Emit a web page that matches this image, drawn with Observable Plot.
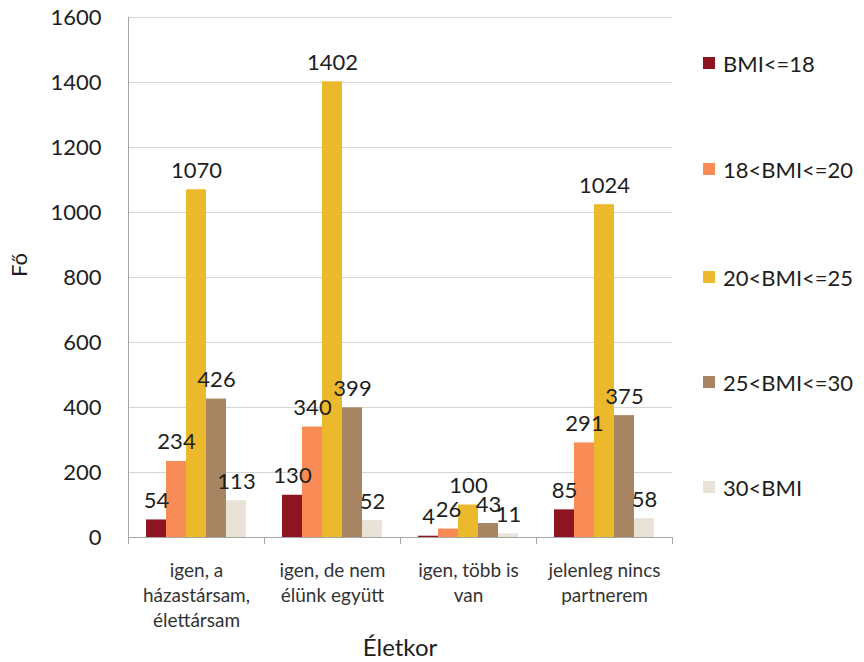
<!DOCTYPE html>
<html><head><meta charset="utf-8">
<script src="https://cdn.jsdelivr.net/npm/d3@7"></script>
<script src="https://cdn.jsdelivr.net/npm/@observablehq/plot@0.6"></script>
<style>
body{margin:0;background:#fff;font-family:Lato,sans-serif;}
#wrap{position:relative;width:864px;height:662px;overflow:hidden;}
.lg{position:absolute;left:703px;display:flex;align-items:center;font-size:22px;color:#1e1e1e;height:30px;}
.lg span.sw{display:inline-block;width:12px;height:12px;margin-right:8px;}
#ylab{position:absolute;left:18px;top:265px;transform:translate(-50%,-50%) rotate(-90deg);font-size:22px;color:#1e1e1e;}
#xlab{position:absolute;left:400px;top:632px;transform:translateX(-50%);font-size:24px;color:#1e1e1e;}
</style></head><body><div id="wrap"></div>
<script>
const categories = ["igen, a\nházastársam,\nélettársam", "igen, de nem\nélünk együtt", "igen, több is\nvan", "jelenleg nincs\npartnerem"];
const series = ["BMI<=18", "18<BMI<=20", "20<BMI<=25", "25<BMI<=30", "30<BMI"];
const bmi18 = [54, 130, 4, 85];
const bmi18_20 = [234, 340, 26, 291];
const bmi20_25 = [1070, 1402, 100, 1024];
const bmi25_30 = [426, 399, 43, 375];
const bmi30 = [113, 52, 11, 58];
const colors = ["#8c1521", "#f98b56", "#ebb92b", "#a78563", "#e9e2d6"];
const yTicks = [0, 200, 400, 600, 800, 1000, 1200, 1400, 1600];
const yLabel = "Fő";
const xLabel = "Életkor";

const values = [bmi18, bmi18_20, bmi20_25, bmi25_30, bmi30];
const data = categories.flatMap((c, i) => series.map((s, j) => ({cat: c, series: s, value: values[j][i]})));

const axisColor = "#a6a6a6";
const chart = Plot.plot({
  width: 864, height: 662,
  marginLeft: 127, marginRight: 191, marginTop: 17, marginBottom: 125,
  style: {fontFamily: "Lato, sans-serif", background: "white", color: "#1e1e1e"},
  fx: {domain: categories, padding: 0, axis: null},
  x: {domain: series, paddingInner: 0, paddingOuter: 0.75, axis: null},
  y: {domain: [0, 1600], axis: null},
  color: {domain: series, range: colors},
  marks: [
    Plot.gridY(yTicks, {stroke: "#d6d6d6", strokeOpacity: 1}),
    Plot.axisY(yTicks, {tickSize: 0, tickPadding: 27, fontSize: 22, fill: "#1e1e1e", label: null, tickFormat: d => String(d)}),
    Plot.barY(data, {fx: "cat", x: "series", y: "value", fill: "series"}),
    Plot.ruleY([0], {stroke: axisColor}),
    Plot.frame({anchor: "right", insetTop: 520, insetBottom: -6, stroke: axisColor}),
    Plot.frame({anchor: "left", fx: () => categories[0], insetBottom: -6, stroke: axisColor}),
    Plot.text(data, {fx: "cat", x: "series", y: "value", text: d => String(d.value), lineAnchor: "bottom", dy: -12, fontSize: 22, fill: "#1e1e1e"}),
    Plot.text(categories, {fx: d => d, text: d => d, frameAnchor: "bottom", lineAnchor: "top", dy: 22, fontSize: 19, lineHeight: 1.32, fill: "#333"})
  ]
});
const wrap = document.getElementById("wrap");
wrap.appendChild(chart);
const rowsTop = [63, 169, 277, 382, 487];
series.forEach((s, i) => {
  const d = document.createElement("div");
  d.className = "lg";
  d.style.top = (rowsTop[i] - 15) + "px";
  d.innerHTML = `<span class="sw" style="background:${colors[i]}"></span>`;
  const t = document.createElement("span");
  t.textContent = s;
  d.appendChild(t);
  wrap.appendChild(d);
});
const yl = document.createElement("div"); yl.id = "ylab"; yl.textContent = yLabel; wrap.appendChild(yl);
const xl = document.createElement("div"); xl.id = "xlab"; xl.textContent = xLabel; wrap.appendChild(xl);
</script>
</body></html>
